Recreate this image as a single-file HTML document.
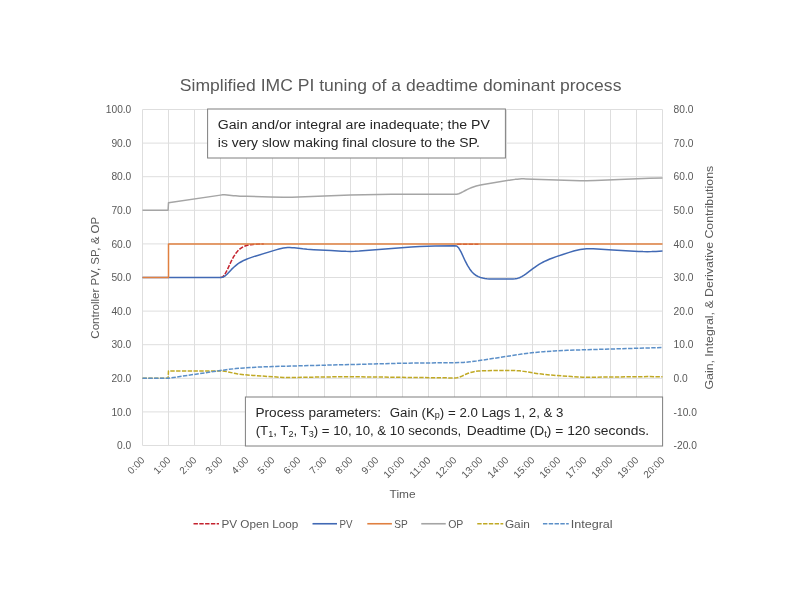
<!DOCTYPE html>
<html lang="en"><head><meta charset="utf-8"><title>Simplified IMC PI tuning of a deadtime dominant process</title>
<style>
html,body{margin:0;padding:0;background:#fff;}
body{width:800px;height:600px;overflow:hidden;}
svg{display:block;}
text{font-family:"Liberation Sans",sans-serif;fill:#595959;}
.tk{font-size:10px;}
.ax{font-size:11.8px;}
.lg{font-size:11.8px;}
.bx{font-size:13.7px;fill:#262626;}
.sub{font-size:9.4px;}
.s{fill:none;stroke-linejoin:round;}
</style></head><body>
<svg width="800" height="600" viewBox="0 0 800 600">
<rect width="800" height="600" fill="#fff"/>
<path d="M142.5 109.5 V445.5M168.5 109.5 V445.5M194.5 109.5 V445.5M220.5 109.5 V445.5M246.5 109.5 V445.5M272.5 109.5 V445.5M298.5 109.5 V445.5M324.5 109.5 V445.5M350.5 109.5 V445.5M376.5 109.5 V445.5M402.5 109.5 V445.5M428.5 109.5 V445.5M454.5 109.5 V445.5M480.5 109.5 V445.5M506.5 109.5 V445.5M532.5 109.5 V445.5M558.5 109.5 V445.5M584.5 109.5 V445.5M610.5 109.5 V445.5M636.5 109.5 V445.5M662.5 109.5 V445.5M142.5 445.50 H662.5M142.5 411.90 H662.5M142.5 378.30 H662.5M142.5 344.70 H662.5M142.5 311.10 H662.5M142.5 277.50 H662.5M142.5 243.90 H662.5M142.5 210.30 H662.5M142.5 176.70 H662.5M142.5 143.10 H662.5M142.5 109.50 H662.5" stroke="#dedede" stroke-width="1" fill="none"/>
<path class="s" d="M220.5 277.50 L222.7 276.97 L224.8 274.49 L227.0 270.42 L229.2 265.69 L231.3 261.05 L233.5 256.96 L235.7 253.57 L237.8 250.91 L240.0 248.89 L242.2 247.39 L244.3 246.31 L246.5 245.55 L248.7 245.02 L250.8 244.65 L253.0 244.40 L255.2 244.23 L259.5 244.04 L263.8 243.96 M457.1 244.37 H478.4" stroke="#c4222e" stroke-width="1.5" stroke-dasharray="4.4 1.4"/>
<path class="s" d="M142.5 277.50 L220.5 277.50 L222.7 277.26 L224.8 276.14 L227.0 274.24 L231.3 269.65 L233.5 267.49 L235.7 265.57 L237.8 263.90 L240.0 262.48 L242.2 261.26 L244.3 260.20 L246.5 259.25 L248.7 258.40 L250.8 257.61 L255.2 256.16 L276.8 249.61 L279.0 248.99 L281.2 248.45 L283.3 248.01 L285.5 247.72 L287.7 247.58 L289.8 247.58 L292.0 247.68 L294.2 247.87 L302.8 248.83 L307.2 249.22 L313.7 249.64 L331.0 250.49 L341.8 251.16 L346.2 251.35 L350.5 251.39 L354.8 251.30 L359.2 251.07 L411.2 247.01 L419.8 246.50 L435.0 245.98 L454.5 245.67 L456.7 245.95 L458.8 248.01 L461.0 251.83 L465.3 261.20 L467.5 265.43 L469.7 268.97 L471.8 271.77 L474.0 273.92 L476.2 275.52 L478.3 276.67 L480.5 277.49 L482.7 278.07 L484.8 278.46 L487.0 278.72 L489.2 278.90 L491.3 279.01 L495.7 279.12 L510.8 279.09 L513.0 279.02 L515.2 278.83 L517.3 278.41 L519.5 277.70 L521.7 276.68 L523.8 275.38 L526.0 273.88 L532.5 268.92 L534.7 267.33 L536.8 265.84 L539.0 264.46 L541.2 263.19 L543.3 262.02 L545.5 260.95 L547.7 259.97 L549.8 259.05 L552.0 258.20 L556.3 256.61 L562.8 254.43 L569.3 252.37 L573.7 251.08 L575.8 250.49 L578.0 249.98 L580.2 249.54 L582.3 249.20 L584.5 248.96 L586.7 248.81 L588.8 248.75 L591.0 248.76 L593.2 248.83 L612.7 250.10 L638.7 251.45 L643.0 251.61 L647.3 251.67 L651.7 251.62 L656.0 251.47 L662.5 251.09" stroke="#4169b4" stroke-width="1.5"/>
<path class="s" d="M142.5 277.50 L168.5 277.50 L168.5 243.90 L662.5 243.90" stroke="#e08040" stroke-width="1.5" stroke-linejoin="miter"/>
<path class="s" d="M142.5 210.30 L168.1 210.30 L168.5 202.84 L220.5 195.13 L222.7 194.86 L224.8 194.80 L227.0 194.92 L233.5 195.64 L235.7 195.84 L240.0 196.14 L246.5 196.37 L270.3 196.89 L283.3 197.33 L287.7 197.36 L292.0 197.26 L350.5 194.89 L391.7 194.37 L454.5 194.26 L456.7 194.18 L458.8 193.69 L461.0 192.79 L463.2 191.66 L465.3 190.48 L467.5 189.36 L469.7 188.36 L471.8 187.48 L474.0 186.73 L476.2 186.08 L478.3 185.52 L480.5 185.02 L484.8 184.15 L510.8 179.98 L515.2 179.37 L517.3 179.13 L519.5 178.96 L521.7 178.87 L523.8 178.84 L526.0 178.88 L541.2 179.61 L580.2 180.64 L586.7 180.65 L595.3 180.43 L649.5 178.24 L662.5 177.94" stroke="#a5a5a5" stroke-width="1.5"/>
<path class="s" d="M142.5 378.30 L168.1 378.30 L168.5 370.91 L220.5 370.91 L222.7 370.96 L224.8 371.21 L227.0 371.62 L233.5 373.11 L235.7 373.53 L237.8 373.90 L240.0 374.21 L244.3 374.72 L253.0 375.45 L279.0 377.18 L283.3 377.40 L287.7 377.49 L294.2 377.43 L346.2 376.66 L450.2 377.90 L454.5 377.91 L456.7 377.85 L458.8 377.40 L461.0 376.56 L465.3 374.49 L467.5 373.56 L469.7 372.79 L471.8 372.17 L474.0 371.69 L476.2 371.34 L478.3 371.09 L480.5 370.91 L484.8 370.70 L493.5 370.56 L513.0 370.57 L515.2 370.62 L517.3 370.71 L519.5 370.86 L521.7 371.09 L523.8 371.37 L534.7 373.14 L539.0 373.78 L543.3 374.31 L549.8 374.97 L571.5 376.58 L578.0 376.96 L582.3 377.13 L588.8 377.23 L647.3 376.59 L662.5 376.72" stroke="#c0a924" stroke-width="1.5" stroke-dasharray="4.4 1.4"/>
<path class="s" d="M142.5 378.30 L168.1 378.30 L224.8 369.89 L229.2 369.31 L235.7 368.61 L244.3 367.90 L257.3 367.11 L272.5 366.50 L404.7 363.17 L458.8 362.60 L461.0 362.54 L463.2 362.44 L465.3 362.29 L469.7 361.87 L476.2 361.04 L521.7 354.08 L528.2 353.20 L534.7 352.46 L543.3 351.68 L554.2 350.93 L567.2 350.29 L662.5 347.52" stroke="#5b8fc8" stroke-width="1.5" stroke-dasharray="4.4 1.4"/>
<text id="title" x="400.6" y="91" font-size="17" text-anchor="middle" textLength="441.6" lengthAdjust="spacingAndGlyphs">Simplified IMC PI tuning of a deadtime dominant process</text>
<text class="tk" x="131.3" y="449.1" text-anchor="end" textLength="14.2" lengthAdjust="spacingAndGlyphs">0.0</text>
<text class="tk" x="131.3" y="415.5" text-anchor="end" textLength="19.9" lengthAdjust="spacingAndGlyphs">10.0</text>
<text class="tk" x="131.3" y="381.9" text-anchor="end" textLength="19.9" lengthAdjust="spacingAndGlyphs">20.0</text>
<text class="tk" x="131.3" y="348.3" text-anchor="end" textLength="19.9" lengthAdjust="spacingAndGlyphs">30.0</text>
<text class="tk" x="131.3" y="314.7" text-anchor="end" textLength="19.9" lengthAdjust="spacingAndGlyphs">40.0</text>
<text class="tk" x="131.3" y="281.1" text-anchor="end" textLength="19.9" lengthAdjust="spacingAndGlyphs">50.0</text>
<text class="tk" x="131.3" y="247.5" text-anchor="end" textLength="19.9" lengthAdjust="spacingAndGlyphs">60.0</text>
<text class="tk" x="131.3" y="213.9" text-anchor="end" textLength="19.9" lengthAdjust="spacingAndGlyphs">70.0</text>
<text class="tk" x="131.3" y="180.3" text-anchor="end" textLength="19.9" lengthAdjust="spacingAndGlyphs">80.0</text>
<text class="tk" x="131.3" y="146.7" text-anchor="end" textLength="19.9" lengthAdjust="spacingAndGlyphs">90.0</text>
<text class="tk" x="131.3" y="113.1" text-anchor="end" textLength="25.5" lengthAdjust="spacingAndGlyphs">100.0</text>
<text class="tk" x="673.6" y="449.1" textLength="23.3" lengthAdjust="spacingAndGlyphs">-20.0</text>
<text class="tk" x="673.6" y="415.5" textLength="23.3" lengthAdjust="spacingAndGlyphs">-10.0</text>
<text class="tk" x="673.6" y="381.9" textLength="14.2" lengthAdjust="spacingAndGlyphs">0.0</text>
<text class="tk" x="673.6" y="348.3" textLength="19.9" lengthAdjust="spacingAndGlyphs">10.0</text>
<text class="tk" x="673.6" y="314.7" textLength="19.9" lengthAdjust="spacingAndGlyphs">20.0</text>
<text class="tk" x="673.6" y="281.1" textLength="19.9" lengthAdjust="spacingAndGlyphs">30.0</text>
<text class="tk" x="673.6" y="247.5" textLength="19.9" lengthAdjust="spacingAndGlyphs">40.0</text>
<text class="tk" x="673.6" y="213.9" textLength="19.9" lengthAdjust="spacingAndGlyphs">50.0</text>
<text class="tk" x="673.6" y="180.3" textLength="19.9" lengthAdjust="spacingAndGlyphs">60.0</text>
<text class="tk" x="673.6" y="146.7" textLength="19.9" lengthAdjust="spacingAndGlyphs">70.0</text>
<text class="tk" x="673.6" y="113.1" textLength="19.9" lengthAdjust="spacingAndGlyphs">80.0</text>
<text class="tk" transform="translate(145.3 460.8) rotate(-45)" text-anchor="end" textLength="19.6" lengthAdjust="spacingAndGlyphs">0:00</text>
<text class="tk" transform="translate(171.3 460.8) rotate(-45)" text-anchor="end" textLength="19.6" lengthAdjust="spacingAndGlyphs">1:00</text>
<text class="tk" transform="translate(197.3 460.8) rotate(-45)" text-anchor="end" textLength="19.6" lengthAdjust="spacingAndGlyphs">2:00</text>
<text class="tk" transform="translate(223.3 460.8) rotate(-45)" text-anchor="end" textLength="19.6" lengthAdjust="spacingAndGlyphs">3:00</text>
<text class="tk" transform="translate(249.3 460.8) rotate(-45)" text-anchor="end" textLength="19.6" lengthAdjust="spacingAndGlyphs">4:00</text>
<text class="tk" transform="translate(275.3 460.8) rotate(-45)" text-anchor="end" textLength="19.6" lengthAdjust="spacingAndGlyphs">5:00</text>
<text class="tk" transform="translate(301.3 460.8) rotate(-45)" text-anchor="end" textLength="19.6" lengthAdjust="spacingAndGlyphs">6:00</text>
<text class="tk" transform="translate(327.3 460.8) rotate(-45)" text-anchor="end" textLength="19.6" lengthAdjust="spacingAndGlyphs">7:00</text>
<text class="tk" transform="translate(353.3 460.8) rotate(-45)" text-anchor="end" textLength="19.6" lengthAdjust="spacingAndGlyphs">8:00</text>
<text class="tk" transform="translate(379.3 460.8) rotate(-45)" text-anchor="end" textLength="19.6" lengthAdjust="spacingAndGlyphs">9:00</text>
<text class="tk" transform="translate(405.3 460.8) rotate(-45)" text-anchor="end" textLength="25.3" lengthAdjust="spacingAndGlyphs">10:00</text>
<text class="tk" transform="translate(431.3 460.8) rotate(-45)" text-anchor="end" textLength="25.3" lengthAdjust="spacingAndGlyphs">11:00</text>
<text class="tk" transform="translate(457.3 460.8) rotate(-45)" text-anchor="end" textLength="25.3" lengthAdjust="spacingAndGlyphs">12:00</text>
<text class="tk" transform="translate(483.3 460.8) rotate(-45)" text-anchor="end" textLength="25.3" lengthAdjust="spacingAndGlyphs">13:00</text>
<text class="tk" transform="translate(509.3 460.8) rotate(-45)" text-anchor="end" textLength="25.3" lengthAdjust="spacingAndGlyphs">14:00</text>
<text class="tk" transform="translate(535.3 460.8) rotate(-45)" text-anchor="end" textLength="25.3" lengthAdjust="spacingAndGlyphs">15:00</text>
<text class="tk" transform="translate(561.3 460.8) rotate(-45)" text-anchor="end" textLength="25.3" lengthAdjust="spacingAndGlyphs">16:00</text>
<text class="tk" transform="translate(587.3 460.8) rotate(-45)" text-anchor="end" textLength="25.3" lengthAdjust="spacingAndGlyphs">17:00</text>
<text class="tk" transform="translate(613.3 460.8) rotate(-45)" text-anchor="end" textLength="25.3" lengthAdjust="spacingAndGlyphs">18:00</text>
<text class="tk" transform="translate(639.3 460.8) rotate(-45)" text-anchor="end" textLength="25.3" lengthAdjust="spacingAndGlyphs">19:00</text>
<text class="tk" transform="translate(665.3 460.8) rotate(-45)" text-anchor="end" textLength="25.3" lengthAdjust="spacingAndGlyphs">20:00</text>
<text class="ax" transform="translate(98.5 277.7) rotate(-90)" text-anchor="middle" textLength="122" lengthAdjust="spacingAndGlyphs">Controller PV, SP, &amp; OP</text>
<text class="ax" transform="translate(713 277.7) rotate(-90)" text-anchor="middle" textLength="223.8" lengthAdjust="spacingAndGlyphs">Gain, Integral, &amp; Derivative Contributions</text>
<text class="ax" x="402.6" y="497.5" text-anchor="middle" textLength="26" lengthAdjust="spacingAndGlyphs">Time</text>
<path d="M193.5 523.75 H219.0" stroke="#c4222e" stroke-width="1.6" fill="none" stroke-dasharray="4.4 1.4"/>
<text class="lg" x="221.4" y="527.5" textLength="77.0" lengthAdjust="spacingAndGlyphs">PV Open Loop</text>
<path d="M312.5 523.75 H337" stroke="#4169b4" stroke-width="1.6" fill="none"/>
<text class="lg" x="339.4" y="527.5" textLength="13.0" lengthAdjust="spacingAndGlyphs">PV</text>
<path d="M367.3 523.75 H391.9" stroke="#e08040" stroke-width="1.6" fill="none"/>
<text class="lg" x="394.15" y="527.5" textLength="13.5" lengthAdjust="spacingAndGlyphs">SP</text>
<path d="M421.25 523.75 H445.75" stroke="#a5a5a5" stroke-width="1.6" fill="none"/>
<text class="lg" x="448.15" y="527.5" textLength="15.2" lengthAdjust="spacingAndGlyphs">OP</text>
<path d="M477.25 523.75 H503.25" stroke="#c0a924" stroke-width="1.6" fill="none" stroke-dasharray="4.4 1.4"/>
<text class="lg" x="504.9" y="527.5" textLength="25.0" lengthAdjust="spacingAndGlyphs">Gain</text>
<path d="M542.95 523.75 H568.75" stroke="#5b8fc8" stroke-width="1.6" fill="none" stroke-dasharray="4.4 1.4"/>
<text class="lg" x="570.65" y="527.5" textLength="42.0" lengthAdjust="spacingAndGlyphs">Integral</text>
<rect x="207.6" y="109" width="297.8" height="49" fill="#fff" stroke="#7f7f7f" stroke-width="1"/>
<text class="bx" x="217.8" y="128.6" textLength="272" lengthAdjust="spacingAndGlyphs">Gain and/or integral are inadequate; the PV</text>
<text class="bx" x="217.8" y="147.4" textLength="262" lengthAdjust="spacingAndGlyphs">is very slow making final closure to the SP.</text>
<rect x="245.4" y="397" width="417.2" height="49" fill="#fff" stroke="#7f7f7f" stroke-width="1"/>
<text class="bx" x="255.5" y="417" textLength="125.6" lengthAdjust="spacingAndGlyphs">Process parameters:</text>
<text class="bx" x="389.8" y="417" textLength="173.7" lengthAdjust="spacingAndGlyphs">Gain (K<tspan class="sub" dy="1.4">p</tspan><tspan dy="-1.4">) = 2.0 Lags 1, 2, &amp; 3</tspan></text>
<text class="bx" x="255.7" y="435.4" textLength="205.5" lengthAdjust="spacingAndGlyphs">(T<tspan class="sub" dy="1.4">1</tspan><tspan dy="-1.4">, T</tspan><tspan class="sub" dy="1.4">2</tspan><tspan dy="-1.4">, T</tspan><tspan class="sub" dy="1.4">3</tspan><tspan dy="-1.4">) = 10, 10, &amp; 10 seconds,</tspan></text>
<text class="bx" x="466.8" y="435.4" textLength="182.4" lengthAdjust="spacingAndGlyphs">Deadtime (D<tspan class="sub" dy="1.4">t</tspan><tspan dy="-1.4">) = 120 seconds.</tspan></text>
</svg>
</body></html>
